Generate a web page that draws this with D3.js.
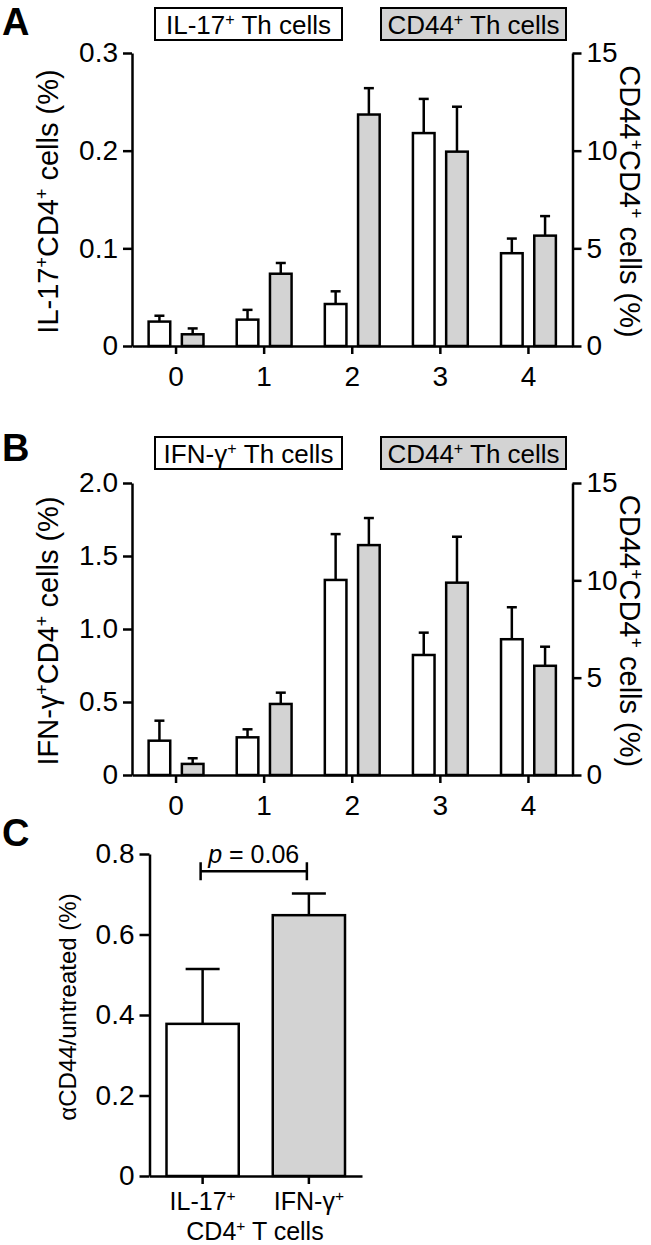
<!DOCTYPE html>
<html><head><meta charset="utf-8">
<script src="https://cdn.jsdelivr.net/npm/d3@7"></script>
<style>
body{margin:0;background:#fff}
svg{display:block}
text{font-family:"Liberation Sans",Arial,Helvetica,sans-serif;fill:#000}
</style>
</head><body>
<svg id="c" width="651" height="1245"></svg>
<script>
// ---------- data ----------
const groups = ["0", "1", "2", "3", "4"];
const il17Mean = [0.025, 0.027, 0.043, 0.218, 0.095];
const il17Err  = [0.006, 0.010, 0.013, 0.035, 0.015];
const cd44AMean = [0.6, 3.7, 11.85, 9.95, 5.65];
const cd44AErr  = [0.3, 0.55, 1.35, 2.3, 1.0];
const ifngMean = [0.235, 0.258, 1.336, 0.822, 0.93];
const ifngErr  = [0.137, 0.055, 0.314, 0.153, 0.219];
const cd44BMean = [0.57, 3.65, 11.81, 9.88, 5.61];
const cd44BErr  = [0.29, 0.58, 1.39, 2.36, 0.98];
const ticksA = [0, 0.1, 0.2, 0.3];
const ticksB = [0, 0.5, 1.0, 1.5, 2.0];
const ticksRight = [0, 5, 10, 15];
const cCats = ["IL-17^+", "IFN-γ^+"];
const cMean = [0.378, 0.648];
const cErr  = [0.136, 0.054];
const ticksC = [0, 0.2, 0.4, 0.6, 0.8];

const GRAY = "#d3d3d3";
const SW = 2.5;
const TICKFS = 28;
const svg = d3.select("#c");
const fmtDec = d => d === 0 ? "0" : d3.format(".1f")(d);
const fmtInt = d => String(d);

function rich(t, str, fs) {
  const shift = fs * 0.36;
  const parts = str.split("^+");
  let raised = false;
  parts.forEach((p, i) => {
    if (p) {
      const s = t.append("tspan").text(p);
      if (raised) { s.attr("dy", shift); raised = false; }
    }
    if (i < parts.length - 1) {
      t.append("tspan").text("+").attr("font-size", fs * 0.62).attr("dy", -shift);
      raised = true;
    }
  });
}

function styleAxis(g) {
  g.selectAll("path.domain").attr("stroke", "#000").attr("stroke-width", SW);
  g.selectAll(".tick line").attr("stroke", "#000").attr("stroke-width", SW);
  g.selectAll(".tick text").attr("font-size", TICKFS).attr("fill", "#000")
    .attr("font-family", '"Liberation Sans",Arial,sans-serif');
}

function errBar(g, cx, yTop, yErr, half) {
  g.append("line").attr("x1", cx).attr("x2", cx).attr("y1", yTop).attr("y2", yErr)
    .attr("stroke", "#000").attr("stroke-width", SW);
  g.append("line").attr("x1", cx - half).attr("x2", cx + half).attr("y1", yErr).attr("y2", yErr)
    .attr("stroke", "#000").attr("stroke-width", SW);
}

function drawDual(cfg) {
  const g = svg.append("g");
  const x = d3.scaleBand().domain(groups).range([132, 572.5]);
  const xs = d3.scaleBand().domain(["L", "R"]).range([0, x.bandwidth()]).paddingInner(0.35).paddingOuter(0.5);
  const yL = d3.scaleLinear().domain([0, cfg.leftMax]).range([cfg.y0, cfg.y1]);
  const yR = d3.scaleLinear().domain([0, 15]).range([cfg.y0, cfg.y1]);

  groups.forEach((k, i) => {
    const xl = x(k) + xs("L"), xr = x(k) + xs("R"), bw = xs.bandwidth();
    errBar(g, xl + bw / 2, yL(cfg.lMean[i]), yL(cfg.lMean[i] + cfg.lErr[i]), 5);
    errBar(g, xr + bw / 2, yR(cfg.rMean[i]), yR(cfg.rMean[i] + cfg.rErr[i]), 5);
    g.append("rect").attr("x", xl).attr("width", bw).attr("y", yL(cfg.lMean[i]))
      .attr("height", cfg.y0 - yL(cfg.lMean[i])).attr("fill", "#fff").attr("stroke", "#000").attr("stroke-width", SW);
    g.append("rect").attr("x", xr).attr("width", bw).attr("y", yR(cfg.rMean[i]))
      .attr("height", cfg.y0 - yR(cfg.rMean[i])).attr("fill", GRAY).attr("stroke", "#000").attr("stroke-width", SW);
  });

  const ax = g.append("g").attr("transform", `translate(0,${cfg.y0})`)
    .call(d3.axisBottom(x).tickSize(8).tickSizeOuter(0).tickPadding(12));
  styleAxis(ax);
  const al = g.append("g").attr("transform", "translate(132,0)")
    .call(d3.axisLeft(yL).tickValues(cfg.leftTicks).tickFormat(fmtDec).tickSize(9).tickSizeOuter(0).tickPadding(5));
  styleAxis(al);
  const ar = g.append("g").attr("transform", "translate(572.5,0)")
    .call(d3.axisRight(yR).tickValues(ticksRight).tickFormat(fmtInt).tickSize(9).tickSizeOuter(0).tickPadding(5));
  styleAxis(ar);

  cfg.legend.forEach((L, i) => {
    g.append("rect").attr("x", L.x).attr("y", cfg.legY).attr("width", L.w).attr("height", 32)
      .attr("fill", i ? GRAY : "#fff").attr("stroke", "#000").attr("stroke-width", 2);
    const t = g.append("text").attr("x", L.x + L.w / 2).attr("y", cfg.legY + 26)
      .attr("text-anchor", "middle").attr("font-size", 26);
    rich(t, L.text, 26);
  });

  const tl = g.append("text").attr("text-anchor", "middle").attr("font-size", 29)
    .attr("transform", `translate(58,${(cfg.y0 + cfg.y1) / 2 + 2}) rotate(-90)`);
  rich(tl, cfg.leftTitle, 29);
  const tr = g.append("text").attr("text-anchor", "middle").attr("font-size", 29)
    .attr("transform", `translate(620,${(cfg.y0 + cfg.y1) / 2 + 2}) rotate(90)`);
  rich(tr, "CD44^+CD4^+ cells (%)", 29);

  g.append("text").attr("x", 2).attr("y", cfg.letterY).attr("font-size", 38)
    .attr("font-weight", "bold").text(cfg.letter);
}

drawDual({
  y0: 346, y1: 53, leftMax: 0.3, leftTicks: ticksA,
  lMean: il17Mean, lErr: il17Err, rMean: cd44AMean, rErr: cd44AErr,
  legY: 8, legend: [{x: 155, w: 187, text: "IL-17^+ Th cells"}, {x: 381, w: 185, text: "CD44^+ Th cells"}],
  leftTitle: "IL-17^+CD4^+ cells (%)", letter: "A", letterY: 35
});
drawDual({
  y0: 775, y1: 483, leftMax: 2.0, leftTicks: ticksB,
  lMean: ifngMean, lErr: ifngErr, rMean: cd44BMean, rErr: cd44BErr,
  legY: 437, legend: [{x: 155, w: 187, text: "IFN-γ^+ Th cells"}, {x: 381, w: 185, text: "CD44^+ Th cells"}],
  leftTitle: "IFN-γ^+CD4^+ cells (%)", letter: "B", letterY: 461
});

// ---------- panel C ----------
(function () {
  const g = svg.append("g");
  const y0 = 1176, y1 = 854;
  const x = d3.scaleBand().domain(cCats).range([149.5, 362]).paddingInner(0.32).paddingOuter(0.16);
  const y = d3.scaleLinear().domain([0, 0.8]).range([y0, y1]);
  cCats.forEach((c, i) => {
    const cx = x(c) + x.bandwidth() / 2;
    errBar(g, cx, y(cMean[i]), y(cMean[i] + cErr[i]), 17);
    g.append("rect").attr("x", x(c)).attr("width", x.bandwidth()).attr("y", y(cMean[i]))
      .attr("height", y0 - y(cMean[i])).attr("fill", i ? GRAY : "#fff")
      .attr("stroke", "#000").attr("stroke-width", SW);
  });
  const ax = g.append("g").attr("transform", `translate(0,${y0})`)
    .call(d3.axisBottom(x).tickSize(8).tickSizeOuter(0).tickPadding(8));
  styleAxis(ax);
  ax.selectAll(".tick text").each(function (d) {
    const t = d3.select(this); t.text(null); t.attr("font-size", 25); rich(t, d, 25);
  });
  const al = g.append("g").attr("transform", "translate(149.5,0)")
    .call(d3.axisLeft(y).tickValues(ticksC).tickFormat(fmtDec).tickSize(10).tickSizeOuter(0).tickPadding(5));
  styleAxis(al);

  const xa = x(cCats[0]) + x.bandwidth() / 2 - 2, xb = x(cCats[1]) + x.bandwidth() / 2 - 2;
  const yb = y(0.757);
  g.append("path").attr("d", `M${xa},${yb - 9}V${yb + 9}M${xa},${yb}H${xb}M${xb},${yb - 9}V${yb + 9}`)
    .attr("fill", "none").attr("stroke", "#000").attr("stroke-width", SW);
  const pt = g.append("text").attr("x", (xa + xb) / 2).attr("y", yb - 8).attr("text-anchor", "middle").attr("font-size", 25);
  pt.append("tspan").attr("font-style", "italic").text("p");
  pt.append("tspan").text(" = 0.06");

  g.append("text").attr("text-anchor", "middle").attr("font-size", 24)
    .attr("transform", `translate(76,${(y0 + y1) / 2 - 8}) rotate(-90)`).text("αCD44/untreated (%)");
  const xt = g.append("text").attr("x", 255).attr("y", 1240).attr("text-anchor", "middle").attr("font-size", 25);
  rich(xt, "CD4^+ T cells", 25);

  g.append("text").attr("x", 2).attr("y", 846).attr("font-size", 38).attr("font-weight", "bold").text("C");
})();
</script>
</body></html>
